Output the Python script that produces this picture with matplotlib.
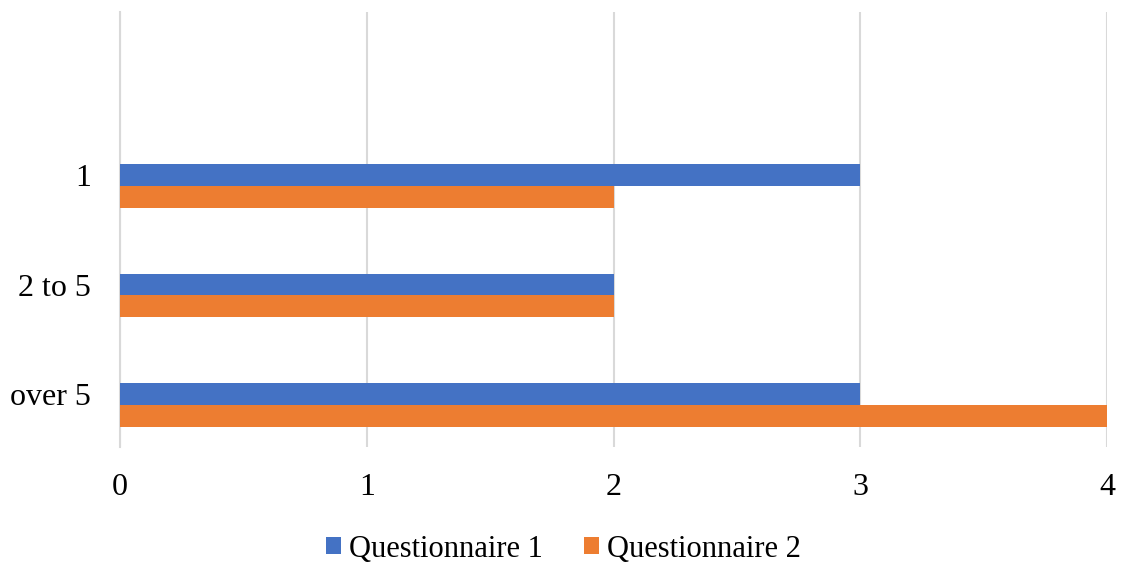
import matplotlib
matplotlib.use("Agg")
import matplotlib.pyplot as plt
import numpy as np

categories = ["over 5", "2 to 5", "1", ""]
q1 = [3, 2, 3, 0]
q2 = [4, 2, 2, 0]
series_names = ["Questionnaire 1", "Questionnaire 2"]
colors = ["#4472C4", "#ED7D31"]
xticks = [0, 1, 2, 3, 4]

plt.rcParams['font.family'] = ['Liberation Serif', 'DejaVu Serif']

fig = plt.figure(figsize=(11.24, 5.62), dpi=100)
ax = fig.add_axes([120/1124, 1-447/562, (1107-120)/1124, (447-12)/562])

pos = np.arange(len(categories))
h = 0.2
ax.barh(pos + h/2, q1, height=h, color=colors[0], label=series_names[0], zorder=3)
ax.barh(pos - h/2, q2, height=h, color=colors[1], label=series_names[1], zorder=3)

ax.set_xlim(0, 4)
ax.set_ylim(-0.384, 3.589)
ax.set_xticks(xticks)
ax.set_xticklabels([str(t) for t in xticks], fontsize=23)
ax.set_yticks(pos[:3] + h/2)
ax.set_yticklabels(categories[:3], fontsize=23)
ax.tick_params(axis='both', length=0)
ax.tick_params(axis='x', pad=19)
ax.tick_params(axis='y', pad=21)
ax.grid(axis='x', color='#D9D9D9', linewidth=1.5, zorder=0)
for s in ['top', 'right', 'bottom']:
    ax.spines[s].set_visible(False)
ax.spines['left'].set_color('#D9D9D9')
ax.spines['left'].set_linewidth(1.5)

leg = fig.legend(loc='center', bbox_to_anchor=(563/1124, 1-549/562), ncol=2,
                 frameon=False, fontsize=22, handlelength=0.5, handleheight=0.5,
                 handletextpad=0.25, columnspacing=1.35)

fig.savefig("out.png", dpi=100)
